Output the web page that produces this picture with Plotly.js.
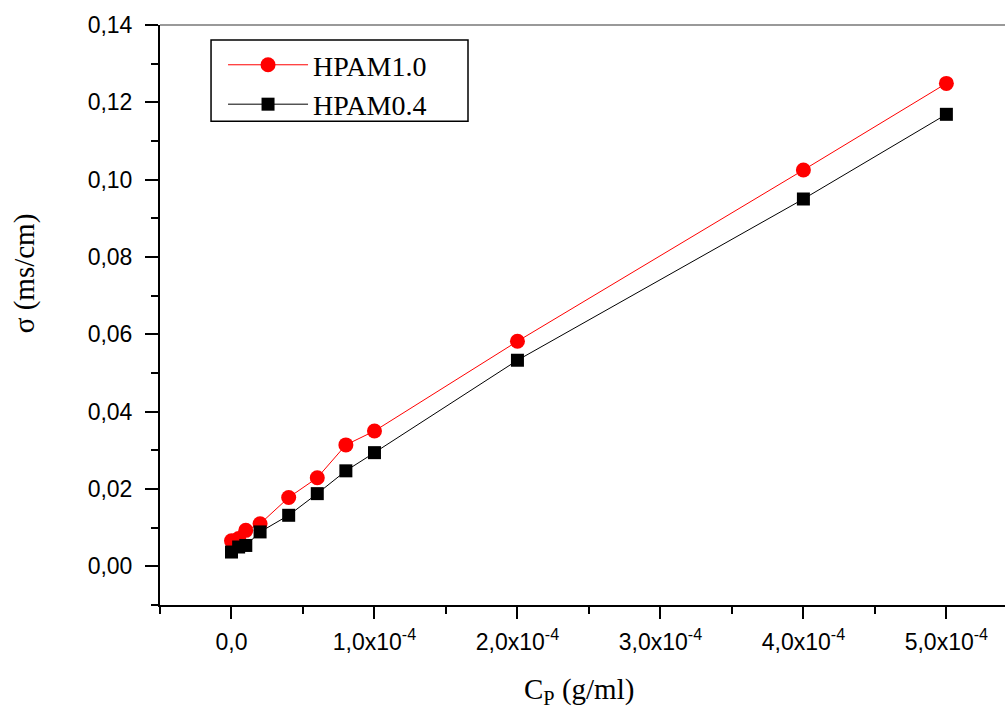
<!DOCTYPE html>
<html>
<head>
<meta charset="utf-8">
<script src="https://cdn.plot.ly/plotly-3.0.1.min.js"></script>
<style>html,body{margin:0;padding:0;background:#fff;}#chart{width:1005px;height:711px;}</style>
</head>
<body>
<div id="chart"></div>
<script>
const concentration = [0, 0.05e-4, 0.1e-4, 0.2e-4, 0.4e-4, 0.6e-4, 0.8e-4, 1.0e-4, 2.0e-4, 4.0e-4, 5.0e-4];
const hpam10 = [0.0066, 0.0072, 0.0093, 0.0110, 0.0178, 0.0229, 0.0314, 0.0350, 0.0582, 0.1025, 0.1249];
const hpam04 = [0.0037, 0.0050, 0.0054, 0.0089, 0.0132, 0.0188, 0.0247, 0.0294, 0.0533, 0.0950, 0.1169];
const xTickVals = [0, 1e-4, 2e-4, 3e-4, 4e-4, 5e-4];
const xTickText = ['0,0', '1,0x10<sup>-4</sup>', '2,0x10<sup>-4</sup>', '3,0x10<sup>-4</sup>', '4,0x10<sup>-4</sup>', '5,0x10<sup>-4</sup>'];
const seriesNames = ['HPAM1.0', 'HPAM0.4'];
const xTitle = 'C<sub>P</sub> (g/ml)';
const yTitle = 'σ (ms/cm)';

const traces = [
  {x: concentration, y: hpam10, name: seriesNames[0], mode: 'lines+markers', type: 'scatter',
   line: {color: '#ff0000', width: 1}, marker: {symbol: 'circle', size: 15, color: '#ff0000'}},
  {x: concentration, y: hpam04, name: seriesNames[1], mode: 'lines+markers', type: 'scatter',
   line: {color: '#000000', width: 1}, marker: {symbol: 'square', size: 13, color: '#000000'}}
];

const serif = 'Liberation Serif, Times New Roman, serif';
const sans = 'Liberation Sans, Arial, sans-serif';

const layout = {
  width: 1005, height: 711,
  margin: {l: 160, r: 0, t: 25, b: 106},
  paper_bgcolor: '#fff', plot_bgcolor: '#fff',
  separators: ',.',
  showlegend: true,
  legend: {
    x: 0.0746, y: 0.974, xanchor: 'left', yanchor: 'top',
    borderwidth: 0, bgcolor: 'rgba(0,0,0,0)',
    font: {family: serif, size: 28, color: '#000'},
    itemwidth: 80, tracegroupgap: 0
  },
  xaxis: {
    range: [-0.5e-4, 5.41e-4],
    tickmode: 'array', tickvals: xTickVals, ticktext: xTickText,
    ticks: 'outside', ticklen: 12, tickwidth: 2, tickcolor: '#000',
    showline: true, linecolor: '#000', linewidth: 2,
    showgrid: false, zeroline: false, automargin: false,
    ticklabelstandoff: 3,
    tickfont: {family: sans, size: 23, color: '#000'},
    minor: {tick0: -0.5e-4, dtick: 0.5e-4, ticks: 'outside', ticklen: 7, tickwidth: 2, tickcolor: '#000'}
  },
  yaxis: {
    range: [-0.01, 0.14],
    tickmode: 'linear', tick0: 0, dtick: 0.02, tickformat: '.2f',
    ticks: 'outside', ticklen: 13, tickwidth: 2, tickcolor: '#000',
    showline: true, linecolor: '#000', linewidth: 2,
    showgrid: false, zeroline: false, automargin: false,
    ticklabelstandoff: 8,
    tickfont: {family: sans, size: 23, color: '#000'},
    minor: {tick0: -0.01, dtick: 0.01, ticks: 'outside', ticklen: 7, tickwidth: 2, tickcolor: '#000'}
  },
  annotations: [
    {text: xTitle, xref: 'paper', yref: 'paper', x: 0.496, y: -0.148, xanchor: 'center', yanchor: 'middle',
     showarrow: false, font: {family: serif, size: 29, color: '#000'}},
    {text: yTitle, xref: 'paper', yref: 'paper', x: -0.161, y: 0.572, xanchor: 'center', yanchor: 'middle',
     textangle: -90, showarrow: false, font: {family: serif, size: 29, color: '#000'}}
  ],
  shapes: [
    {type: 'line', xref: 'paper', yref: 'paper', x0: 0, x1: 1, y0: 1, y1: 1, line: {color: '#777', width: 1.5}},
    {type: 'rect', xref: 'paper', yref: 'paper', x0: 0.0604, x1: 0.3645, y0: 0.834, y1: 0.974,
     line: {color: '#000', width: 1.5}, fillcolor: 'rgba(0,0,0,0)'}
  ]
};

Plotly.newPlot('chart', traces, layout, {displayModeBar: false, staticPlot: true});
</script>
</body>
</html>
